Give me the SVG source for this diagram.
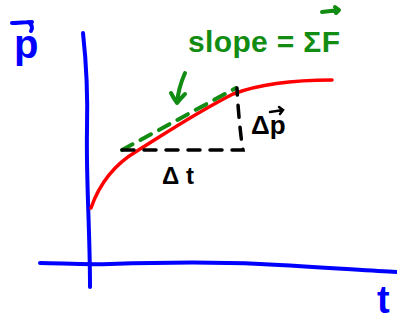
<svg xmlns="http://www.w3.org/2000/svg" width="397" height="322" viewBox="0 0 397 322">
<style>
.ax{fill:none;stroke:#0000ff;stroke-width:4;stroke-linecap:round;stroke-linejoin:round}
.blk{fill:none;stroke:#000;stroke-width:3.5;stroke-linecap:round;stroke-dasharray:12 10}
.grn{fill:none;stroke:#128c12;stroke-width:4;stroke-linecap:round;stroke-linejoin:round}
.t{font-family:"Liberation Sans",Arial,sans-serif;font-weight:bold}
</style>
<rect width="397" height="322" fill="#fff"/>
<g id="axes">
<path class="ax" d="M83,33 C86,60 88,90 87,130 C86,180 90,230 90,287"/>
<path class="ax" d="M40,263 C60,263 80,265 110,264 C170,262 220,262 260,264 C320,267 360,270 397,272"/>
<path class="ax" d="M12,23 C18,23 26,22 32,22 M28,22 C32,24 33,28 31,31"/>
<text class="t" x="14" y="58" font-size="40" fill="#0000ff">p</text>
<text class="t" x="377" y="313" font-size="38" fill="#0000ff">t</text>
</g>
<g id="curve">
<path d="M91,208 C100,182 115,164 137,151 C160,137 190,116 233,94 C265,82 300,80 332,80" fill="none" stroke="#ff0000" stroke-width="3.5" stroke-linecap="round"/>
</g>
<g id="tangent">
<path class="grn" d="M122,150 L236,88" stroke-dasharray="12 9"/>
<path class="grn" d="M185,73 C181,82 178,92 177,103 M171,93 C173,97 175,100 177,103 C180,99 183,96 185,94"/>
<text class="t" x="188" y="52" font-size="30" fill="#128c12" textLength="152" lengthAdjust="spacing">slope = ΣF</text>
<path class="grn" d="M322,12 L339,10 M335,7 L339,10 L336,13" stroke-width="3"/>
</g>
<g id="deltas">
<path class="blk" d="M122,150 L243,150 C241,140 238,110 237,88"/>
<text class="t" x="251" y="134" font-size="26" fill="#000">Δp</text>
<path d="M270,112 L283,110 M279,107 L283,110 L280,114" fill="none" stroke="#000" stroke-width="2.5" stroke-linecap="round"/>
<text class="t" x="162" y="184" font-size="24" fill="#000">Δ t</text>
</g>
</svg>
